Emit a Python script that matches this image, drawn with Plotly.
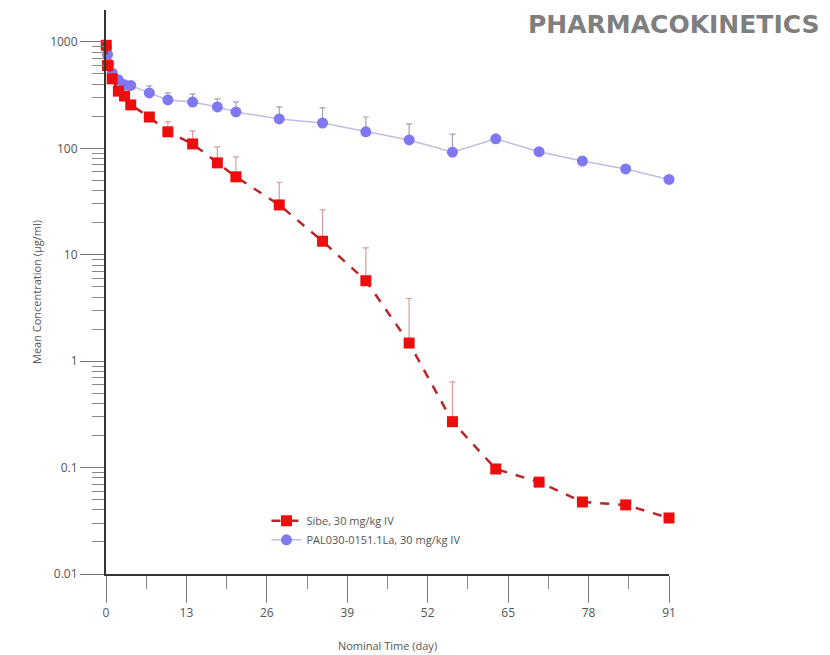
import plotly.graph_objects as go

# ---- data ----
sibe_time = [0.04, 0.25, 1, 2, 3, 4, 7, 10, 14, 18, 21, 28, 35, 42, 49, 56, 63, 70, 77, 84, 91]
sibe_conc = [930, 600, 450, 345, 310, 256, 197, 143, 110, 73, 54, 29.4, 13.4, 5.7, 1.48, 0.27, 0.097, 0.073, 0.0475, 0.0446, 0.0336]
sibe_err = [0, 0, 0, 0, 0, 0, 0, 34, 36, 30, 29, 18.6, 13, 5.9, 2.4, 0.37, 0, 0, 0, 0, 0]

pal_time = [0.04, 0.25, 0.5, 1, 2, 3, 4, 7, 10, 14, 18, 21, 28, 35, 42, 49, 56, 63, 70, 77, 84, 91]
pal_conc = [900, 760, 620, 510, 440, 395, 390, 332, 285, 272, 245, 220, 189, 173, 143, 120, 92, 123, 93, 76, 64, 51]
pal_err = [0, 0, 0, 0, 0, 20, 15, 54, 47, 53, 46, 53, 56, 67, 54, 50, 44, 0, 5, 0, 0, 0]

x_ticks = [0, 13, 26, 39, 52, 65, 78, 91]
y_ticks = [0.01, 0.1, 1, 10, 100, 1000]
y_tick_labels = ["0.01", "0.1", "1", "10", "100", "1000"]

series_names = ["Sibe, 30 mg/kg IV", "PAL030-0151.1La, 30 mg/kg IV"]
title_text = "PHARMACOKINETICS"
x_title = "Nominal Time (day)"
y_title = "Mean Concentration (µg/ml)"

y_minor = [k * 10 ** e for e in range(-2, 4) for k in range(2, 10)]
x_minor = [t + 6.5 for t in x_ticks[:-1]]

fig = go.Figure()

fig.add_trace(go.Scatter(
    x=pal_time, y=pal_conc, name=series_names[1], mode="lines+markers",
    line=dict(color="#bdbde6", width=1.5),
    marker=dict(symbol="circle", size=11, color="#7f78f0"),
    error_y=dict(type="data", array=pal_err, arrayminus=[0] * len(pal_err), symmetric=False,
                 color="#a0a0b4", thickness=1.2, width=3),
    cliponaxis=False,
))

fig.add_trace(go.Scatter(
    x=sibe_time, y=sibe_conc, name=series_names[0], mode="lines+markers",
    line=dict(color="#b8262a", width=2.5, dash="dash"),
    marker=dict(symbol="square", size=11, color="#ee0d0d"),
    error_y=dict(type="data", array=sibe_err, arrayminus=[0] * len(sibe_err), symmetric=False,
                 color="#d79a9a", thickness=1.2, width=3),
    cliponaxis=False,
))

axis_font = dict(family="Open Sans, Noto Sans, sans-serif", size=12, color="#555555")
title_font = dict(family="Open Sans, Noto Sans, sans-serif", size=11, color="#555555")

fig.update_layout(
    width=830, height=655,
    margin=dict(l=98, r=169, t=2, b=89, autoexpand=False),
    paper_bgcolor="white", plot_bgcolor="white",
    showlegend=True,
    legend=dict(x=0.285, y=0.12, xanchor="left", yanchor="top",
                font=dict(family="Open Sans, Noto Sans, sans-serif", size=11, color="#555555"),
                bgcolor="rgba(0,0,0,0)", traceorder="reversed", itemwidth=30, tracegroupgap=0),
    xaxis=dict(
        range=[0, 91], showgrid=False, zeroline=False, automargin=False,
        showline=True, linecolor="#333333", linewidth=2,
        tickmode="array", tickvals=x_ticks, ticktext=[str(t) for t in x_ticks],
        ticks="outside", ticklen=27, tickwidth=1.2, tickcolor="#777777",
        minor=dict(tickmode="array", tickvals=x_minor, ticks="outside", ticklen=13,
                   tickwidth=1.2, tickcolor="#888888", showgrid=False),
        tickfont=axis_font,
        title=dict(text=x_title, font=title_font, standoff=22),
    ),
    yaxis=dict(
        type="log", range=[-2, 3.3], showgrid=False, zeroline=False, automargin=False,
        showline=True, linecolor="#333333", linewidth=2,
        tickmode="array", tickvals=y_ticks, ticktext=y_tick_labels,
        ticks="outside", ticklen=24, tickwidth=1.2, tickcolor="#777777",
        minor=dict(tickmode="array", tickvals=y_minor, ticks="outside", ticklen=12,
                   tickwidth=1.2, tickcolor="#888888", showgrid=False),
        tickfont=axis_font,
        title=dict(text=y_title, font=title_font, standoff=6),
    ),
    annotations=[dict(
        text="<b>" + title_text + "</b>", xref="paper", yref="paper",
        x=(814 - 98) / 563, y=(566 - 17) / 564, xanchor="right", yanchor="middle", showarrow=False,
        font=dict(family="DejaVu Sans, Liberation Sans, sans-serif", size=25, color="#7f7f7f"),
    )],
)

fig.write_html("out.html")
